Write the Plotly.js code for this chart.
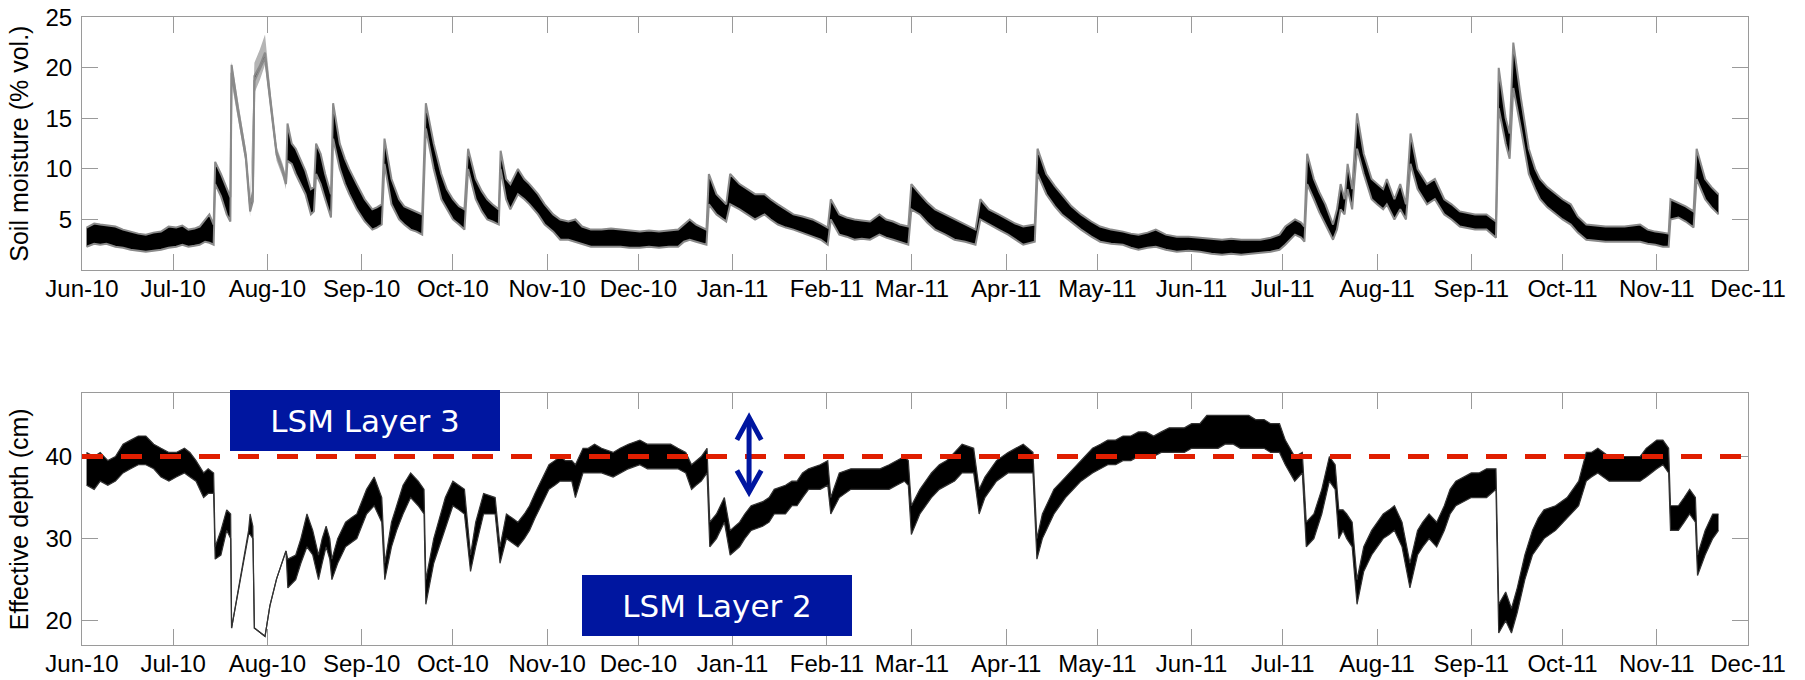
<!DOCTYPE html>
<html>
<head>
<meta charset="utf-8">
<script src="https://cdn.plot.ly/plotly-3.0.1.min.js"></script>
<style>
html,body{margin:0;padding:0;background:#ffffff;}
#chart{width:1805px;height:680px;}
</style>
</head>
<body>
<div id="chart"></div>
<script>
// ---------------- data ----------------
const START_DATE = '2010-06-01';   // day 0 of the day offsets below
const END_DATE = '2011-12-01';

const MONTH_TICKS = ['2010-06-01','2010-07-01','2010-08-01','2010-09-01','2010-10-01','2010-11-01',
  '2010-12-01','2011-01-01','2011-02-01','2011-03-01','2011-04-01','2011-05-01','2011-06-01',
  '2011-07-01','2011-08-01','2011-09-01','2011-10-01','2011-11-01','2011-12-01'];
const MONTH_LABELS = ['Jun-10','Jul-10','Aug-10','Sep-10','Oct-10','Nov-10','Dec-10','Jan-11',
  'Feb-11','Mar-11','Apr-11','May-11','Jun-11','Jul-11','Aug-11','Sep-11','Oct-11','Nov-11','Dec-11'];

// Soil moisture (% vol.): day offset, lower and upper edge of the dense black trace
const SM_DAY = [
  1.5,4,6,8,11,13.5,16,18.5,21,23.5,
  26,28.5,31,33,35,37,38.7,40.5,41.9,43.3,
  43.8,45.7,47.6,48.8,49.2,51.3,53.9,55.3,56.2,56.7,
  58.5,60.2,62.3,64,66,67.1,67.6,69,70.3,72,
  73.5,75.3,76.3,77,78.5,80,81,81.9,82.6,84.8,
  86.5,87.9,90.4,93,95.5,97,98.6,99.5,101.8,104.3,
  106,108.1,110,111.9,113.1,115.7,118.2,120,122,124,
  125.8,127,129.5,131.5,133.3,135,137.1,137.7,139.5,140.9,
  143.4,145.5,147.2,150,152.2,155,157.3,160,162.3,164.5,
  167.4,170.9,174,177.2,180,183.5,186.5,189.8,193,196.1,
  198,199.9,202,205.4,206.2,208.7,211.9,213.2,216.3,219,
  221.4,224.5,226.5,228.9,231.5,234,237,240.3,243,245.3,
  246.3,249.1,251.5,254.1,256.5,259.2,262.3,264.5,266.8,269,
  271.8,272.8,275.6,278,280.6,284,287,290.5,293.9,295.5,
  298.3,301.5,304.6,307,309.6,313.4,314.3,317.2,320,322.3,
  325.5,328.6,332,334.9,338.5,342.4,345,347.5,350.5,353.2,
  356.5,360.1,364,367.7,371.5,375,378,381.3,384.5,387.6,
  391,393.9,395.8,399,401,402.1,403,405.2,407,409,
  411.5,412.8,414,415.3,416.3,417.8,419.4,421.6,424.2,426,
  428,429.2,431.7,433.6,435.5,437,439.3,442.4,445,448.1,
  450.5,453.2,456,458.2,462,465.1,466,468.3,469.6,470.8,
  473.3,475.9,478,479.6,482,484.7,487,489.7,492,494.8,
  498,501.1,504,507.4,510,512.5,515,517.5,520,521.9,
  522.5,525.1,527.5,530.1,531.1,533.9,536,538.3];
const SM_LO = [
  2.3,2.6,2.5,2.6,2.3,2.2,2.0,1.9,1.8,1.9,
  2.0,2.2,2.3,2.5,2.3,2.4,2.5,2.8,2.7,2.5,
  8.5,7.3,5.5,4.8,19.5,15.6,11.0,5.8,6.8,18.7,
  19.8,21.0,15.7,11.4,9.7,8.5,10.8,10.5,9.5,8.5,
  7.5,5.5,5.8,9.5,8.5,7.0,6.0,5.2,13.0,10.0,
  8.5,7.5,6.0,4.8,4.0,4.2,4.5,10.5,6.5,5.0,
  4.5,4.0,3.8,3.5,14.0,10.0,7.0,6.0,5.0,4.5,
  4.0,10.0,7.0,5.8,5.0,4.8,4.5,10.0,7.0,6.0,
  7.5,7.0,6.5,5.5,4.5,3.8,3.0,3.0,2.8,2.6,
  2.3,2.3,2.3,2.3,2.2,2.2,2.3,2.2,2.3,2.3,
  2.8,3.0,2.8,2.5,6.5,5.5,4.8,6.5,6.0,5.5,
  5.0,5.5,5.0,4.5,4.2,4.0,3.7,3.3,3.0,2.5,
  5.0,3.5,3.3,3.0,3.1,3.0,3.5,3.2,3.0,2.8,
  2.5,6.0,5.5,4.7,4.0,3.5,3.0,2.8,2.5,5.0,
  4.5,4.0,3.5,3.0,2.5,2.8,9.5,7.5,6.3,5.5,
  4.7,4.0,3.3,2.8,2.6,2.5,2.2,2.0,2.2,2.3,
  2.0,1.8,1.9,1.8,1.6,1.5,1.6,1.5,1.6,1.7,
  1.8,2.0,2.5,3.5,3.2,2.8,8.5,7.0,5.7,4.5,
  3.0,4.0,6.0,5.5,8.0,6.0,12.0,9.5,7.0,6.5,
  6.0,6.5,5.0,6.0,5.0,10.5,8.0,6.5,7.0,5.5,
  5.0,4.3,4.1,4.0,4.0,3.2,16.0,12.5,11.0,18.0,
  14.0,9.5,8.0,7.0,6.2,5.5,5.0,4.5,3.7,3.0,
  2.9,2.8,2.8,2.8,2.8,2.8,2.6,2.5,2.3,2.3,
  5.0,5.2,4.8,4.2,9.0,7.0,6.2,5.5];
const SM_HI = [
  4.2,4.6,4.5,4.4,4.3,4.0,3.8,3.6,3.5,3.7,
  3.8,4.3,4.2,4.4,4.0,4.1,4.3,5.0,5.5,4.5,
  10.7,9.5,8.0,7.2,20.3,16.0,11.4,6.3,7.8,19.2,
  20.2,21.5,16.1,11.7,10.0,8.8,14.5,12.5,12.0,10.8,
  9.8,8.0,8.2,12.5,11.5,9.5,8.5,7.5,16.5,12.5,
  11.0,10.0,8.5,7.0,6.0,6.2,6.5,13.0,9.0,7.0,
  6.3,6.0,5.8,5.5,16.5,12.5,9.5,8.0,7.0,6.3,
  6.0,12.0,9.0,7.8,7.0,6.5,6.0,11.8,9.0,8.5,
  10.0,9.0,8.5,7.5,6.5,5.5,5.0,4.8,5.0,4.3,
  4.0,4.0,4.1,4.0,3.9,3.8,3.9,3.8,3.9,4.0,
  4.5,5.0,4.5,4.0,9.5,7.5,6.5,9.5,8.5,8.0,
  7.5,7.5,7.0,6.5,6.0,5.5,5.3,5.0,4.6,4.2,
  7.0,5.5,5.2,5.0,4.9,4.8,5.5,5.0,4.8,4.5,
  4.3,8.5,7.5,6.7,6.0,5.5,5.0,4.5,4.0,7.0,
  6.0,5.5,5.0,4.6,4.3,4.5,12.0,9.5,8.3,7.5,
  6.3,5.5,4.8,4.3,4.0,3.8,3.6,3.5,3.7,4.0,
  3.5,3.3,3.3,3.2,3.1,3.0,3.1,3.0,3.0,3.0,
  3.2,3.5,4.3,5.0,4.7,4.3,11.5,9.0,7.7,6.5,
  4.5,6.0,8.5,7.0,10.5,8.0,15.5,11.5,9.0,8.5,
  8.0,9.0,7.0,8.5,6.5,13.5,10.0,8.5,9.0,7.0,
  6.5,5.8,5.6,5.5,5.5,4.8,20.0,15.0,13.5,22.5,
  17.0,12.0,10.0,9.0,8.2,7.5,7.0,6.5,5.3,4.5,
  4.4,4.3,4.3,4.3,4.4,4.5,4.0,3.8,3.7,3.6,
  7.0,6.6,6.3,5.8,12.0,9.0,8.2,7.5];

// Grey uncertainty band of soil moisture where it is wide (Jul/Aug 2010 gap)
const SM_BAND_DAY = [49.2,51.3,53.9,55.3,56.7,58.5,60.2,62.3,64,66,67.1];
const SM_BAND_LO  = [18.5,15.0,10.5,5.3,17.5,18.8,20.3,15.0,10.8,9.2,8.0];
const SM_BAND_HI  = [20.6,16.6,12.0,6.8,20.5,21.8,23.3,16.8,12.2,10.5,9.3];

// Effective depth (cm): day offset, lower and upper edge of the dense black trace
const ED_DAY = [
  1.5,4,6,8.5,11,13.5,16,18.5,21,23.6,
  26,28.6,31,33.7,35.5,37.5,40,41.5,43.3,43.8,
  45.7,47.6,48.9,49.2,54.8,55.3,56.2,56.7,60.2,61.8,
  64,67.1,67.7,70.3,72,74,75.9,77.8,79,80.3,
  81.5,82.2,84.1,86.7,88.5,90.4,92,93.6,96.1,98.6,
  99.6,101.8,103.5,105.6,108.1,110.6,112.5,113.1,115.7,117.5,
  119.5,122,124,125.8,127.8,129.5,132.1,135.9,137.5,139.6,
  141.5,143.4,145.5,147.2,149,151,153.6,155.5,157.3,159,
  161.1,162.3,164.8,166.5,168.6,170.9,174.7,177,179.7,183.5,
  186,188.6,191,193.6,196,198.6,200.5,202,203.7,205.6,
  206.5,208.7,211.3,213.2,216.3,218,220.1,223.9,226,227.7,
  231.4,233.5,235.2,237,239,242.8,245.3,246.3,249.1,252.9,
  256,259.2,262.5,265.5,268,270.5,271.8,272.8,275.6,277.5,
  279.4,282,284.4,287,289.5,293.3,295.1,297,300.8,304.6,
  307,309.6,312.8,314.1,315.9,317.8,319.7,323.5,326,328.6,
  332.4,335,337.4,340,342.4,345,347.5,350,352.5,355,
  357.6,360,362.6,365,367.7,370,373.7,376,378.7,381,
  383.8,386,388.8,391,393.9,395.8,398.9,401.4,402.7,405.2,
  407.8,410.3,412.2,413.4,414.8,416,417.8,419.4,421.6,424.2,
  426,428,430,431.7,434.2,436.8,439.3,441,443.1,445.6,
  448.1,450,451.9,454.5,457,459.5,462,465.1,466,468.3,
  470.2,472.1,474.6,477.1,479,480.9,484.7,488.5,492.3,494.8,
  496.5,498.6,500.5,502.3,505,507.4,510,512.5,514.5,516.2,
  518,520,521.9,522.5,525.1,527,528.8,530.7,531.4,533.9,
  536.4,538.3];
const ED_LO = [
  36.5,36,37,36.5,37,38,38.5,39,39,38.5,
  37.5,37,37.5,38,37.5,37,35,35.5,35.5,27.5,
  28,31,30,19.1,30.5,30.5,30,19.1,18.1,21.8,
  25.1,28.5,24,25,27,29,28,25,27,29,
  27.5,25,27,29,29.5,30,31.5,33,34,32,
  25,29,31,33,35,34,33,22,27,29,
  31,34,33.5,33,26,29,33,33,27,30,
  29.5,29,30,31,32.5,34,36,36.5,37,37,
  37,35,38,38,38,38,37.5,38,38.5,39,
  38.5,38.5,38.5,38.5,38.5,38,36,36.5,37,38,
  29,30,32,28,29,30,31,31.5,32,33,
  33,34,34,35,36,36,36.5,33,35,36,
  36,36,36,36,36.5,37,36.5,30.5,33,34,
  35,36,36.5,37,38,38,33,35,37,38,
  38,38,38,27.5,30,31.5,33,35,36,37,
  38,38.5,39,39,39.5,39.5,40,40,40,40.5,
  40.5,40.5,40.5,41,41,41,41,41.5,41.5,41,
  41,41,41,40.5,40.5,39,37,38,29,30,
  33,37,36,30,31,30,29,22,26,28,
  29,30,30.5,31,29,24,28,29,30,29,
  31,33,34,34.5,35,35,35,36,18.5,20,
  18.5,21,25,28,29,30,31,32.5,34,37,
  37.5,38,37.5,37,37,37,37,37,37.5,38,
  38.5,39,38,31,31,32,33,32,25.5,28,
  30,31];
const ED_HI = [
  40.5,40,40.5,39.5,40,41.5,42,42.5,42.5,41.5,
  41,40.5,40.5,41,40.5,39.5,38,38.5,38,29,
  31,33.5,33,19.1,31,33,31.5,19.1,18.1,21.8,
  25.1,28.5,27.5,28,30,33,31,28,30,31.5,
  30,27.5,30,32,32.5,33,34.5,36,37.5,35,
  27,32,34,36.5,38,37,36,25,30,32.5,
  35,37,36.5,36,28,32,35.5,35,29,33,
  32.5,32,33,34,35.5,37,39,39.5,40,39.5,
  39.5,39,41,41,41.5,41,40.5,41,41.5,42,
  41.5,41.5,41.5,41.5,41,40.5,39,39.5,40,41,
  32,33,35,31,32,33,34,34.5,35,36,
  36.5,37,37,38,38.5,39,39.5,35,38,38.5,
  38.5,38.5,38.5,39,39.5,40,39.5,34,36,37,
  38,39,39.5,40.5,41.5,41,36,37.5,39.5,40.5,
  41,41.5,40.5,30,33,34.5,36,37.5,38.5,39.5,
  41,41.5,42,42,42.5,42.5,43,43,42.5,43,
  43.5,43.5,43.5,44,44,45,45,45,45,45,
  45,44.5,44.5,44,44,42,40,40.5,32,33,
  36,40,39,33.5,33.5,33,32,25,29,31,
  32,33,33.5,34,32,27,31,32,33,32,
  34,36,37,37.5,38,38,38.5,38.5,22,23.5,
  21.5,24,28,31,32.5,33.5,34,35,37,40.5,
  40.5,41,40.5,40,40,40,40,40,41,41.5,
  42,42,41,34,34,35,36,35,28,31,
  33,33];

const LAYER_DEPTH = 40;   // LSM layer boundary (cm)

// ---------------- build ----------------
const START_MS = Date.parse(START_DATE + 'T00:00:00Z');
function dayToDate(d) {
  const s = new Date(START_MS + d * 86400000).toISOString();
  return s.slice(0, 10) + ' ' + s.slice(11, 19);
}
const smX = SM_DAY.map(dayToDate);
const smBandX = SM_BAND_DAY.map(dayToDate);
const edX = ED_DAY.map(dayToDate);

const traces = [
  {x: smBandX, y: SM_BAND_HI, xaxis: 'x', yaxis: 'y', mode: 'lines',
   line: {width: 0, color: '#b0b0b0'}, hoverinfo: 'skip', showlegend: false},
  {x: smBandX, y: SM_BAND_LO, xaxis: 'x', yaxis: 'y', mode: 'lines', fill: 'tonexty',
   fillcolor: '#b4b4b4', line: {width: 0, color: '#b0b0b0'}, hoverinfo: 'skip', showlegend: false},
  {x: smX, y: SM_HI, xaxis: 'x', yaxis: 'y', mode: 'lines',
   line: {width: 2, color: '#8a8a8a'}, showlegend: false},
  {x: smX, y: SM_LO, xaxis: 'x', yaxis: 'y', mode: 'lines', fill: 'tonexty',
   fillcolor: '#000000', line: {width: 2, color: '#8a8a8a'}, showlegend: false},
  {x: edX, y: ED_HI, xaxis: 'x2', yaxis: 'y2', mode: 'lines',
   line: {width: 1.2, color: '#333333'}, showlegend: false},
  {x: edX, y: ED_LO, xaxis: 'x2', yaxis: 'y2', mode: 'lines', fill: 'tonexty',
   fillcolor: '#000000', line: {width: 1.2, color: '#333333'}, showlegend: false}
];

const FONT = 'Liberation Sans, Arial, Helvetica, sans-serif';
const AX = '#9a9a9a';
function xAxis(anchor) {
  return {
    type: 'date', anchor: anchor, domain: [0, 1],
    range: [START_DATE, END_DATE],
    tickmode: 'array', tickvals: MONTH_TICKS, ticktext: MONTH_LABELS,
    ticks: 'inside', ticklen: 16, tickwidth: 1, tickcolor: AX,
    showline: true, linecolor: AX, linewidth: 1, mirror: 'ticks',
    showgrid: false, zeroline: false, automargin: false, fixedrange: true,
    tickfont: {family: FONT, size: 24, color: '#000'}, ticklabelstandoff: -3
  };
}
function yAxis(anchor, domain, range, tickvals, title) {
  return {
    anchor: anchor, domain: domain, range: range,
    tickmode: 'array', tickvals: tickvals,
    ticks: 'inside', ticklen: 16, tickwidth: 1, tickcolor: AX,
    showline: true, linecolor: AX, linewidth: 1, mirror: 'ticks',
    showgrid: false, zeroline: false, automargin: false, fixedrange: true,
    tickfont: {family: FONT, size: 24, color: '#000'}, ticklabelstandoff: 4,
    title: {text: title, font: {family: FONT, size: 25, color: '#000'}, standoff: 9}
  };
}

const BLUE = '#0016a0';
const arrowX = 0.4004, arrowHalf = 0.0073;
const layout = {
  width: 1805, height: 680,
  margin: {l: 82, r: 57, t: 0, b: 0},
  paper_bgcolor: '#ffffff', plot_bgcolor: '#ffffff',
  showlegend: false,
  xaxis: xAxis('y'),
  xaxis2: xAxis('y2'),
  yaxis: yAxis('x', [0.6029, 0.9746], [0, 25], [5, 10, 15, 20, 25], 'Soil moisture (% vol.)'),
  yaxis2: yAxis('x2', [0.0510, 0.4216], [17, 47.7], [20, 30, 40], 'Effective depth (cm)'),
  shapes: [
    {type: 'line', xref: 'x2 domain', x0: 0, x1: 1, yref: 'y2', y0: LAYER_DEPTH, y1: LAYER_DEPTH,
     line: {color: '#e01e00', width: 5, dash: '21px,18px'}, layer: 'above'},
    {type: 'line', xref: 'paper', x0: arrowX, x1: arrowX, yref: 'y2', y0: 35.7, y1: 44.7,
     line: {color: BLUE, width: 5}},
    {type: 'path', xref: 'paper', yref: 'y2',
     path: 'M ' + (arrowX - arrowHalf) + ',42.03 L ' + arrowX + ',44.75 L ' + (arrowX + arrowHalf) + ',42.03',
     line: {color: BLUE, width: 5}},
    {type: 'path', xref: 'paper', yref: 'y2',
     path: 'M ' + (arrowX - arrowHalf) + ',38.30 L ' + arrowX + ',35.65 L ' + (arrowX + arrowHalf) + ',38.30',
     line: {color: BLUE, width: 5}}
  ],
  annotations: [
    {text: 'LSM Layer 3', xref: 'paper', yref: 'paper', x: 0.1699, y: 0.3816,
     xanchor: 'center', yanchor: 'middle', showarrow: false, width: 270, height: 61,
     bgcolor: BLUE, borderpad: 0, borderwidth: 0,
     font: {family: 'DejaVu Sans, Verdana, sans-serif', size: 31, color: '#ffffff'}},
    {text: 'LSM Layer 2', xref: 'paper', yref: 'paper', x: 0.3814, y: 0.1096,
     xanchor: 'center', yanchor: 'middle', showarrow: false, width: 270, height: 61,
     bgcolor: BLUE, borderpad: 0, borderwidth: 0,
     font: {family: 'DejaVu Sans, Verdana, sans-serif', size: 31, color: '#ffffff'}}
  ]
};

Plotly.newPlot('chart', traces, layout, {displayModeBar: false, staticPlot: true});
</script>
</body>
</html>
